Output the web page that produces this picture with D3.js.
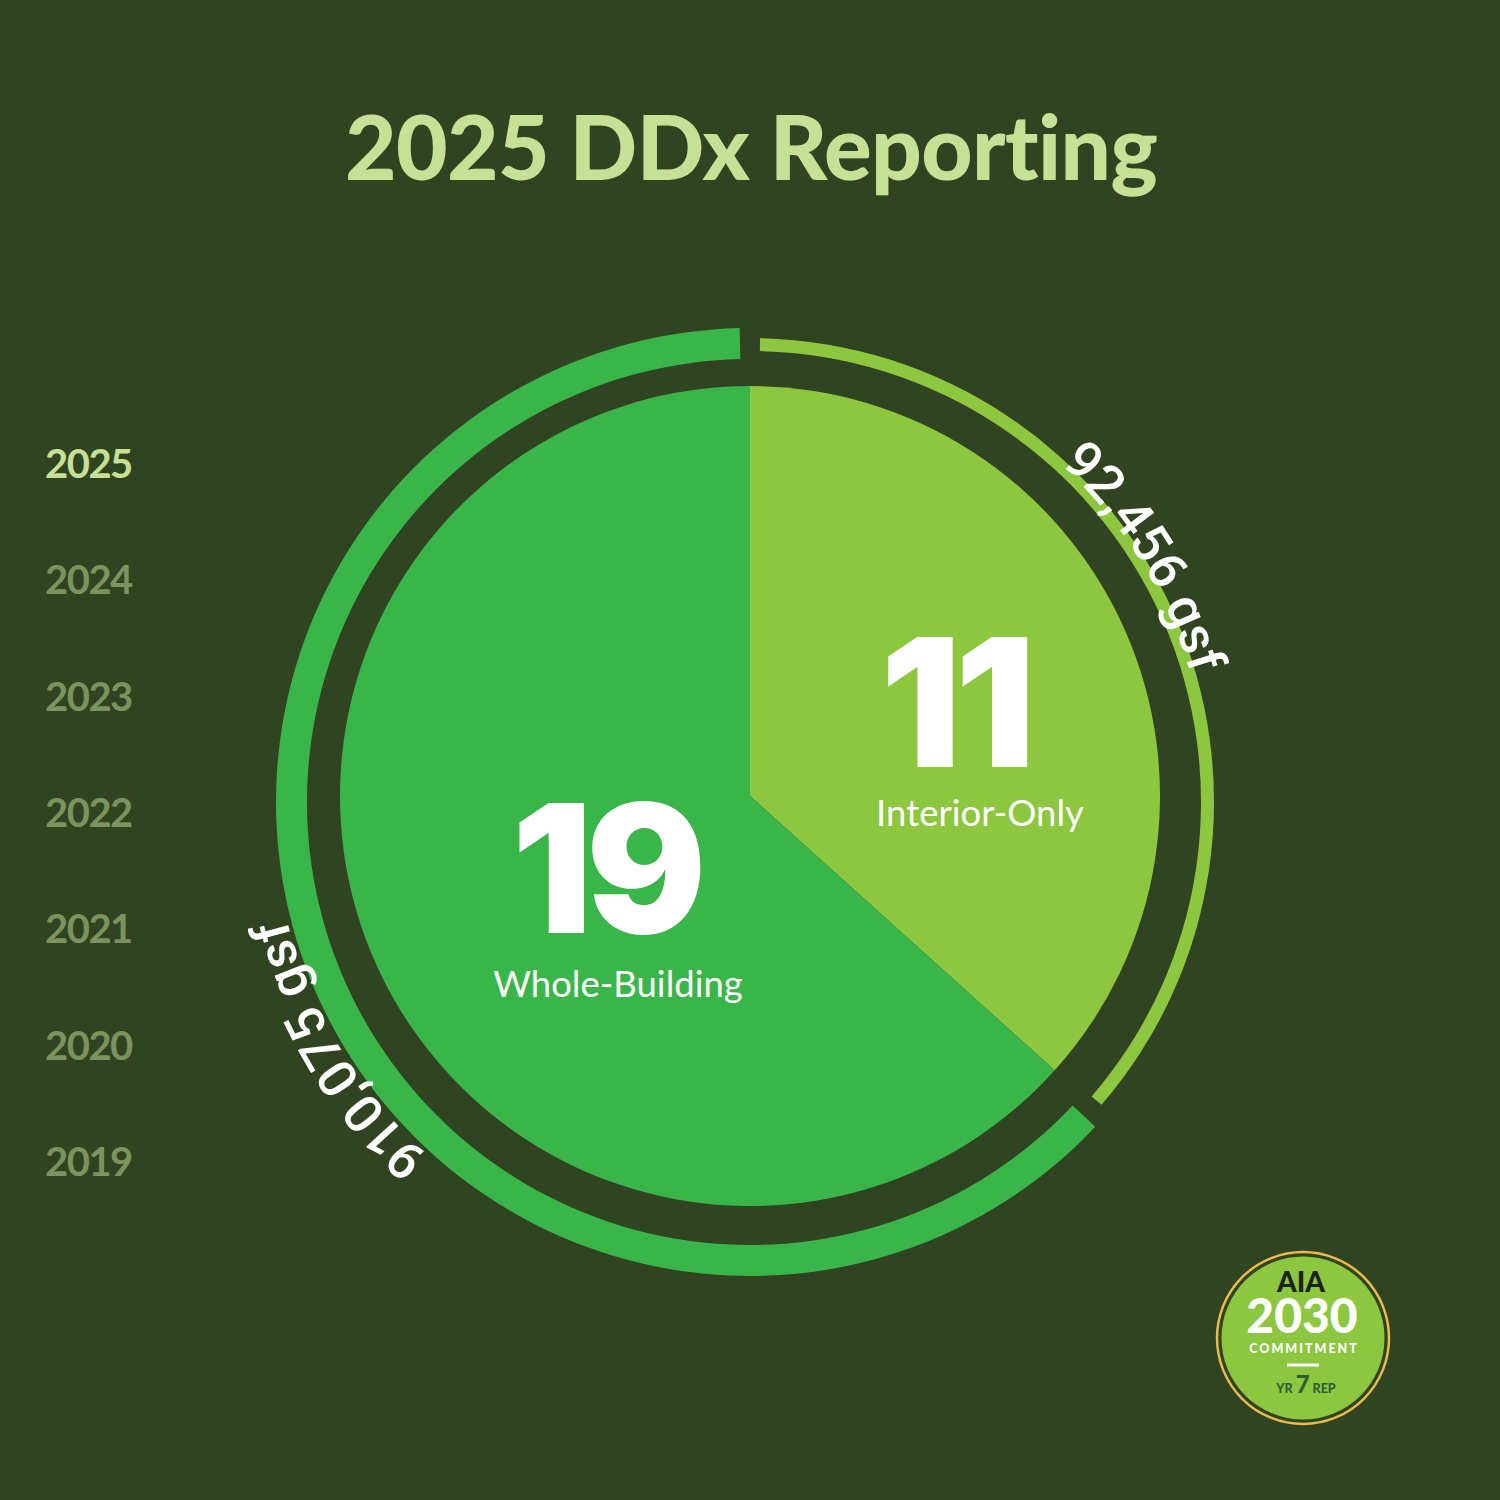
<!DOCTYPE html>
<html>
<head>
<meta charset="utf-8">
<script src="https://cdn.jsdelivr.net/npm/d3@7"></script>
<style>
  html, body { margin: 0; padding: 0; background: #314422; }
  svg { display: block; }
</style>
</head>
<body>
<div id="chart"></div>
<script>
// data
const title = '2025 DDx Reporting';
const categories = ['Interior-Only', 'Whole-Building'];
const projectCounts = [11, 19];
const areaLabels = ['92,456 gsf', '910,075 gsf'];
const years = ['2025', '2024', '2023', '2022', '2021', '2020', '2019'];
const activeYear = '2025';

const width = 1500;
const height = 1500;

const bg = '#314422';
const colors = d3.scaleOrdinal()
    .domain(categories)
    .range(['#8dc63f', '#3ab54a']);

const svg = d3.select('#chart')
    .append('svg')
    .attr('width', width)
    .attr('height', height)
    .attr('viewBox', [0, 0, width, height])
    .attr('font-family', 'Lato, "Noto Sans", sans-serif');

svg.append('rect')
    .attr('width', width)
    .attr('height', height)
    .attr('fill', bg);

// title
svg.append('text')
    .attr('x', 751)
    .attr('y', 180)
    .attr('text-anchor', 'middle')
    .attr('fill', '#c6e096')
    .attr('font-size', 89)
    .attr('font-weight', 900)
    .attr('letter-spacing', -0.6)
    .text(title);

// year list
const yScale = d3.scalePoint()
    .domain(years)
    .range([478, 1176]);

svg.append('g')
    .selectAll('text')
    .data(years)
    .join('text')
    .attr('x', 45)
    .attr('y', d => yScale(d))
    .attr('font-size', 40)
    .attr('font-weight', 700)
    .attr('letter-spacing', -1.5)
    .attr('fill', d => d === activeYear ? '#c6e096' : '#7b935c')
    .text(d => d);

// pie
const rows = categories.map((c, i) => ({name: c, count: projectCounts[i], area: areaLabels[i]}));
const pie = d3.pie().sort(null).value(d => d.count);
const arcs = pie(rows);

const pieG = svg.append('g').attr('transform', 'translate(750,796)');
const pieArc = d3.arc().innerRadius(0).outerRadius(410);

pieG.selectAll('path')
    .data(arcs)
    .join('path')
    .attr('d', pieArc)
    .attr('fill', d => colors(d.data.name));

// outer ring, thin for interior, thick for whole-building
const ringG = svg.append('g').attr('transform', 'translate(750,802)');
const ringWidth = {'Interior-Only': [451, 464], 'Whole-Building': [443, 474]};
const gap = 10 / 458;

ringG.selectAll('path')
    .data(arcs)
    .join('path')
    .attr('d', d => d3.arc()
        .innerRadius(ringWidth[d.data.name][0])
        .outerRadius(ringWidth[d.data.name][1])
        .startAngle(d.startAngle + gap)
        .endAngle(d.endAngle - gap)())
    .attr('fill', d => colors(d.data.name));

// curved area labels
const labelRadius = {'Interior-Only': 459, 'Whole-Building': 478};
const labelAngle = {'Interior-Only': 58.2, 'Whole-Building': 239};
const circlePath = r => `M0,${-r}A${r},${r} 0 1 1 0,${r}A${r},${r} 0 1 1 0,${-r}`;

const defs = svg.append('defs');
rows.forEach((d, i) => {
    defs.append('path')
        .attr('id', 'lp' + i)
        .attr('d', circlePath(labelRadius[d.name]))
        .attr('transform', 'translate(750,802)');
});

svg.append('g')
    .selectAll('text')
    .data(rows)
    .join('text')
    .attr('font-family', 'Roboto, sans-serif')
    .attr('font-size', 53)
    .attr('font-weight', 500)
    .attr('fill', '#ffffff')
    .append('textPath')
    .attr('href', (d, i) => '#lp' + i)
    .attr('text-anchor', 'middle')
    .attr('startOffset', d => (labelAngle[d.name] / 360 * 100) + '%')
    .text(d => d.area);

// big counts and names
const countPos = {'Interior-Only': [955, 767, 980, 826], 'Whole-Building': [606, 933, 618, 997]};

const labelG = svg.append('g').attr('fill', '#ffffff').attr('text-anchor', 'middle');
labelG.selectAll('.count')
    .data(rows)
    .join('text')
    .attr('class', 'count')
    .attr('x', d => countPos[d.name][0])
    .attr('y', d => countPos[d.name][1])
    .attr('font-family', 'Inter, Lato, sans-serif')
    .attr('font-size', 178)
    .attr('font-weight', 900)
    .attr('letter-spacing', -6)
    .text(d => d.count);

labelG.selectAll('.name')
    .data(rows)
    .join('text')
    .attr('class', 'name')
    .attr('x', d => countPos[d.name][2])
    .attr('y', d => countPos[d.name][3])
    .attr('font-size', 36.5)
    .attr('font-weight', 400)
    .text(d => d.name);

// AIA 2030 badge
const badge = svg.append('g').attr('transform', 'translate(1303,1338)').attr('text-anchor', 'middle');
badge.append('circle').attr('r', 86).attr('fill', bg).attr('stroke', '#e9bb4c').attr('stroke-width', 2.5);
badge.append('circle').attr('r', 81.5).attr('fill', '#8dc63f');
badge.append('text').attr('x', -2).attr('y', -46).attr('font-size', 28).attr('font-weight', 900)
    .attr('fill', '#1d2416').text('AIA');
badge.append('text').attr('x', -1).attr('y', -5).attr('font-size', 48).attr('font-weight', 900)
    .attr('letter-spacing', 0).attr('fill', '#ffffff').text('2030');
badge.append('text').attr('x', 1).attr('y', 15).attr('font-size', 12.5).attr('font-weight', 900)
    .attr('letter-spacing', 2).attr('fill', '#ffffff').text('COMMITMENT');
badge.append('line').attr('x1', -16).attr('x2', 16).attr('y1', 27).attr('y2', 27)
    .attr('stroke', '#ffffff').attr('stroke-width', 3);
const yr = badge.append('text').attr('x', 3).attr('y', 55).attr('fill', '#2f5f2f').attr('font-weight', 900);
yr.append('tspan').attr('font-size', 12.5).text('YR ');
yr.append('tspan').attr('font-size', 24).text('7');
yr.append('tspan').attr('font-size', 12.5).text(' REP');
</script>
</body>
</html>
